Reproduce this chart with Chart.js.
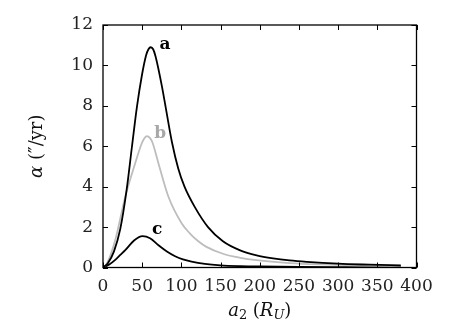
<!DOCTYPE html>
<html>
<head>
<meta charset="utf-8">
<script src="https://cdn.jsdelivr.net/npm/chart.js@4"></script>
<style>
  html, body { margin: 0; padding: 0; background: #fff; }
  #wrap { width: 452px; height: 328px; }
</style>
</head>
<body>
<div id="wrap"><canvas id="chart" width="452" height="328"></canvas></div>
<script>
// ── Data ──
const aX = [0, 6, 14, 22, 30, 37, 43.3, 49.6, 55, 58, 61, 64, 67, 75, 81, 88, 96, 104, 117, 134, 153, 175, 196, 217, 238, 260, 300, 340, 380];
const aY = [0, 0.2, 0.8, 1.9, 3.8, 6.0, 7.95, 9.5, 10.5, 10.8, 10.9, 10.8, 10.45, 9.0, 7.7, 6.2, 4.9, 4.0, 3.0, 2.0, 1.3, 0.85, 0.6, 0.45, 0.35, 0.28, 0.19, 0.14, 0.1];

const bX = [0, 5, 15.6, 28.4, 41, 49, 52, 56, 60, 63, 70.8, 83.5, 100.5, 111, 121.6, 132, 153, 175, 196, 238, 280, 330, 380];
const bY = [0, 0.2, 1.35, 3.5, 5.15, 6.1, 6.35, 6.5, 6.4, 6.2, 5.15, 3.5, 2.18, 1.68, 1.3, 1.02, 0.68, 0.48, 0.36, 0.22, 0.15, 0.1, 0.07];

const cX = [0, 8, 15.6, 22, 28.4, 40, 50.4, 60, 70.8, 82, 92, 102, 113, 130, 150, 175, 200, 250, 300, 380];
const cY = [0, 0.15, 0.38, 0.62, 0.86, 1.35, 1.55, 1.45, 1.1, 0.78, 0.56, 0.4, 0.29, 0.18, 0.11, 0.07, 0.05, 0.03, 0.02, 0.01];

// curve labels, placed in data units
const curveNames = ['a', 'b', 'c'];
const curveColors = ['#000000', '#bdbdbd', '#000000'];
const labelX = [79, 73, 69];
const labelY = [11.05, 6.65, 1.9];

const xTicks = [0, 50, 100, 150, 200, 250, 300, 350, 400];
const yTicks = [0, 2, 4, 6, 8, 10, 12];

const tickFont = { family: 'DejaVu Serif', size: 17 };

function toPoints(xs, ys) {
  return xs.map((x, i) => ({ x: x, y: ys[i] }));
}

const series = [toPoints(aX, aY), toPoints(bX, bY), toPoints(cX, cY)];

// Draw a run of text pieces (italic / subscript) starting at x
function drawRuns(ctx, runs, x, y, size) {
  runs.forEach(r => {
    const s = r.sub ? size * 0.72 : size;
    ctx.font = (r.italic ? 'italic ' : '') + s + 'px "DejaVu Serif"';
    ctx.fillText(r.t, x, y + (r.sub ? size * 0.28 : 0));
    x += ctx.measureText(r.t).width;
  });
}

function runsWidth(ctx, runs, size) {
  let w = 0;
  runs.forEach(r => {
    const s = r.sub ? size * 0.72 : size;
    ctx.font = (r.italic ? 'italic ' : '') + s + 'px "DejaVu Serif"';
    w += ctx.measureText(r.t).width;
  });
  return w;
}

const xTitle = [{ t: 'a', italic: true }, { t: '2', sub: true }, { t: ' (' }, { t: 'R', italic: true }, { t: 'U', italic: true, sub: true }, { t: ')' }];
const yTitle = [{ t: 'α', italic: true }, { t: ' (″/yr)' }];

// Frame, inward ticks, curve labels and axis titles
const decorations = {
  id: 'decorations',
  afterDatasetsDraw(chart) {
    const { ctx, chartArea: ca, scales: { x, y } } = chart;
    ctx.save();
    ctx.strokeStyle = '#000';
    ctx.lineWidth = 1.3;
    ctx.strokeRect(ca.left, ca.top, ca.right - ca.left, ca.bottom - ca.top);

    ctx.lineWidth = 1;
    const tl = 5;
    ctx.beginPath();
    xTicks.forEach(v => {
      const px = Math.round(x.getPixelForValue(v)) + 0.5;
      ctx.moveTo(px, ca.bottom); ctx.lineTo(px, ca.bottom - tl);
      ctx.moveTo(px, ca.top); ctx.lineTo(px, ca.top + tl);
    });
    yTicks.forEach(v => {
      const py = Math.round(y.getPixelForValue(v)) + 0.5;
      ctx.moveTo(ca.left, py); ctx.lineTo(ca.left + tl, py);
      ctx.moveTo(ca.right, py); ctx.lineTo(ca.right - tl, py);
    });
    ctx.stroke();

    // curve labels
    ctx.textAlign = 'center';
    ctx.textBaseline = 'middle';
    ctx.font = 'bold 17px "DejaVu Serif"';
    curveNames.forEach((n, i) => {
      ctx.fillStyle = i === 1 ? '#a8a8a8' : '#000';
      ctx.fillText(n, x.getPixelForValue(labelX[i]), y.getPixelForValue(labelY[i]));
    });

    // axis titles
    ctx.fillStyle = '#111';
    ctx.textAlign = 'left';
    ctx.textBaseline = 'middle';
    const size = 18;
    const wx = runsWidth(ctx, xTitle, size);
    drawRuns(ctx, xTitle, (ca.left + ca.right) / 2 - wx / 2, 311, size);

    ctx.save();
    ctx.translate(37, (ca.top + ca.bottom) / 2);
    ctx.rotate(-Math.PI / 2);
    const wy = runsWidth(ctx, yTitle, size);
    drawRuns(ctx, yTitle, -wy / 2, 0, size);
    ctx.restore();

    ctx.restore();
  }
};

new Chart(document.getElementById('chart').getContext('2d'), {
  type: 'line',
  data: {
    datasets: series.map((pts, i) => ({
      label: curveNames[i],
      data: pts,
      borderColor: curveColors[i],
      borderWidth: 1.8,
      pointRadius: 0,
      fill: false,
      cubicInterpolationMode: 'monotone'
    }))
  },
  options: {
    responsive: false,
    animation: false,
    layout: { padding: { top: 25, right: 35.5, left: 0, bottom: 0 } },
    plugins: { legend: { display: false }, tooltip: { enabled: false } },
    scales: {
      x: {
        type: 'linear', min: 0, max: 400,
        afterBuildTicks: s => { s.ticks = xTicks.map(v => ({ value: v })); },
        afterFit: s => { s.height = 60.5; },
        grid: { display: false, drawTicks: false },
        border: { display: false },
        ticks: { font: tickFont, color: '#222', padding: 9, maxRotation: 0 }
      },
      y: {
        min: 0, max: 12,
        afterBuildTicks: s => { s.ticks = yTicks.map(v => ({ value: v })); },
        afterFit: s => { s.width = 103; },
        grid: { display: false, drawTicks: false },
        border: { display: false },
        ticks: { font: tickFont, color: '#222', padding: 10 }
      }
    }
  },
  plugins: [decorations]
});
</script>
</body>
</html>
